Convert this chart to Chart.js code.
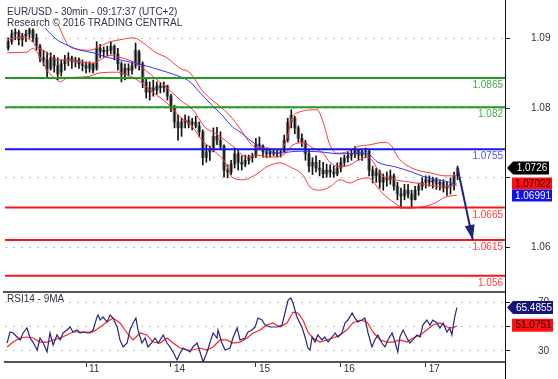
<!DOCTYPE html>
<html>
<head>
<meta charset="utf-8">
<script src="https://cdn.jsdelivr.net/npm/chart.js@4.4.1/dist/chart.umd.min.js"></script>
<style>
  html, body { margin: 0; padding: 0; background: #fff; }
  #wrap { position: relative; width: 558px; height: 379px; overflow: hidden; }
  #price { position: absolute; left: 0; top: 0; }
  #rsi { position: absolute; left: 0; top: 291px; }
</style>
</head>
<body>
<div id="wrap">
  <canvas id="price" width="558" height="291"></canvas>
  <canvas id="rsi" width="558" height="88"></canvas>
</div>
<script>
// EUR/USD bars, one per hour (first bar = hour 2 of the 10th)
const firstHour = 2;
const open = [
  1.0911, 1.0921, 1.0933, 1.0936, 1.0924, 1.0930, 1.0933, 1.0939,
  1.0927, 1.0914, 1.0896, 1.0893, 1.0880, 1.0896, 1.0884, 1.0874,
  1.0887, 1.0893, 1.0896, 1.0890, 1.0893, 1.0887, 1.0884, 1.0880,
  1.0887, 1.0880, 1.0911, 1.0905, 1.0908, 1.0908, 1.0914, 1.0902,
  1.0887, 1.0871, 1.0880, 1.0877, 1.0884, 1.0905, 1.0887, 1.0859,
  1.0843, 1.0850, 1.0846, 1.0853, 1.0850, 1.0853, 1.0837, 1.0819,
  1.0797, 1.0788, 1.0797, 1.0800, 1.0794, 1.0797, 1.0791, 1.0782,
  1.0742, 1.0751, 1.0754, 1.0775, 1.0769, 1.0760, 1.0723, 1.0720,
  1.0732, 1.0748, 1.0735, 1.0732, 1.0738, 1.0742, 1.0745, 1.0763,
  1.0760, 1.0751, 1.0748, 1.0751, 1.0748, 1.0749, 1.0751, 1.0769,
  1.0797, 1.0803, 1.0788, 1.0772, 1.0766, 1.0748, 1.0729, 1.0735,
  1.0726, 1.0723, 1.0717, 1.0723, 1.0720, 1.0717, 1.0726, 1.0735,
  1.0742, 1.0745, 1.0748, 1.0754, 1.0746, 1.0751, 1.0752, 1.0723,
  1.0714, 1.0720, 1.0704, 1.0711, 1.0708, 1.0714, 1.0698, 1.0686,
  1.0683, 1.0692, 1.0686, 1.0677, 1.0692, 1.0698, 1.0704, 1.0708,
  1.0704, 1.0708, 1.0701, 1.0704, 1.0695, 1.0698, 1.0701, 1.0714
];
const high = [
  1.0927, 1.0939, 1.0941, 1.0939, 1.0934, 1.0939, 1.0942, 1.0941,
  1.0933, 1.0917, 1.0908, 1.0905, 1.0904, 1.0900, 1.0896, 1.0893,
  1.0900, 1.0904, 1.0899, 1.0897, 1.0896, 1.0893, 1.0890, 1.0890,
  1.0888, 1.0921, 1.0917, 1.0913, 1.0914, 1.0921, 1.0916, 1.0911,
  1.0890, 1.0887, 1.0887, 1.0890, 1.0919, 1.0908, 1.0890, 1.0865,
  1.0859, 1.0862, 1.0859, 1.0857, 1.0859, 1.0854, 1.0840, 1.0823,
  1.0808, 1.0803, 1.0808, 1.0806, 1.0803, 1.0806, 1.0797, 1.0785,
  1.0762, 1.0760, 1.0788, 1.0789, 1.0782, 1.0762, 1.0731, 1.0738,
  1.0757, 1.0754, 1.0745, 1.0746, 1.0746, 1.0749, 1.0772, 1.0774,
  1.0762, 1.0757, 1.0755, 1.0755, 1.0754, 1.0755, 1.0777, 1.0803,
  1.0816, 1.0806, 1.0791, 1.0779, 1.0769, 1.0754, 1.0742, 1.0745,
  1.0738, 1.0735, 1.0732, 1.0731, 1.0729, 1.0734, 1.0742, 1.0746,
  1.0751, 1.0754, 1.0759, 1.0755, 1.0754, 1.0757, 1.0754, 1.0729,
  1.0726, 1.0723, 1.0717, 1.0720, 1.0723, 1.0717, 1.0704, 1.0695,
  1.0701, 1.0701, 1.0692, 1.0698, 1.0703, 1.0711, 1.0714, 1.0714,
  1.0712, 1.0711, 1.0708, 1.0708, 1.0704, 1.0711, 1.0720, 1.0729
];
const low = [
  1.0908, 1.0917, 1.0924, 1.0916, 1.0914, 1.0921, 1.0927, 1.0921,
  1.0908, 1.0890, 1.0884, 1.0867, 1.0877, 1.0874, 1.0862, 1.0868,
  1.0877, 1.0884, 1.0880, 1.0882, 1.0880, 1.0876, 1.0873, 1.0874,
  1.0873, 1.0877, 1.0896, 1.0897, 1.0899, 1.0902, 1.0893, 1.0877,
  1.0859, 1.0862, 1.0868, 1.0871, 1.0880, 1.0877, 1.0850, 1.0834,
  1.0831, 1.0837, 1.0840, 1.0842, 1.0843, 1.0831, 1.0813, 1.0788,
  1.0769, 1.0775, 1.0788, 1.0788, 1.0785, 1.0788, 1.0774, 1.0731,
  1.0735, 1.0738, 1.0751, 1.0762, 1.0754, 1.0712, 1.0711, 1.0716,
  1.0726, 1.0723, 1.0723, 1.0728, 1.0732, 1.0735, 1.0742, 1.0754,
  1.0743, 1.0742, 1.0743, 1.0745, 1.0743, 1.0743, 1.0751, 1.0766,
  1.0788, 1.0779, 1.0766, 1.0759, 1.0738, 1.0720, 1.0716, 1.0720,
  1.0714, 1.0711, 1.0712, 1.0712, 1.0712, 1.0714, 1.0720, 1.0729,
  1.0735, 1.0738, 1.0742, 1.0738, 1.0738, 1.0742, 1.0714, 1.0703,
  1.0704, 1.0695, 1.0692, 1.0698, 1.0701, 1.0692, 1.0677, 1.0664,
  1.0677, 1.0680, 1.0666, 1.0677, 1.0684, 1.0692, 1.0695, 1.0698,
  1.0695, 1.0693, 1.0692, 1.0689, 1.0684, 1.0686, 1.0692, 1.0708
];
const close = [
  1.0921, 1.0933, 1.0936, 1.0924, 1.0930, 1.0933, 1.0939, 1.0927,
  1.0914, 1.0896, 1.0893, 1.0877, 1.0896, 1.0884, 1.0871, 1.0887,
  1.0893, 1.0896, 1.0890, 1.0893, 1.0887, 1.0884, 1.0880, 1.0887,
  1.0877, 1.0911, 1.0905, 1.0908, 1.0907, 1.0914, 1.0902, 1.0887,
  1.0871, 1.0880, 1.0877, 1.0884, 1.0908, 1.0887, 1.0859, 1.0843,
  1.0850, 1.0846, 1.0853, 1.0850, 1.0853, 1.0837, 1.0819, 1.0797,
  1.0788, 1.0797, 1.0800, 1.0794, 1.0797, 1.0791, 1.0782, 1.0742,
  1.0751, 1.0754, 1.0775, 1.0769, 1.0760, 1.0723, 1.0720, 1.0732,
  1.0748, 1.0735, 1.0732, 1.0738, 1.0742, 1.0745, 1.0763, 1.0760,
  1.0751, 1.0748, 1.0751, 1.0748, 1.0749, 1.0751, 1.0769, 1.0797,
  1.0808, 1.0788, 1.0772, 1.0766, 1.0748, 1.0729, 1.0735, 1.0726,
  1.0723, 1.0717, 1.0723, 1.0720, 1.0717, 1.0726, 1.0735, 1.0742,
  1.0745, 1.0748, 1.0754, 1.0746, 1.0751, 1.0752, 1.0723, 1.0714,
  1.0720, 1.0704, 1.0711, 1.0708, 1.0714, 1.0698, 1.0686, 1.0683,
  1.0692, 1.0686, 1.0677, 1.0692, 1.0698, 1.0704, 1.0708, 1.0704,
  1.0708, 1.0701, 1.0704, 1.0695, 1.0698, 1.0701, 1.0714, 1.0726
];

// bollinger bands and moving average (hour, price)
const upperHours = [16.1, 17.2, 18.9, 20.9, 25.1, 28.0, 30.8, 33.6, 37.3, 40.7, 43.5, 46.9, 50.6, 53.4, 56.8, 59.6, 62.4, 65.3, 68.4, 70.3, 72.3, 74.6, 78.8, 80.8, 82.2, 83.6, 89.3, 91.0, 92.9, 94.9, 97.7, 100.6, 104.2, 108.5, 110.5, 112.1, 116.1, 121.8, 125.4, 128.8];
const upperBand = [1.0948, 1.0934, 1.0916, 1.0910, 1.0908, 1.0914, 1.0921, 1.0924, 1.0927, 1.0917, 1.0905, 1.0896, 1.0880, 1.0873, 1.0846, 1.0831, 1.0819, 1.0803, 1.0780, 1.0765, 1.0757, 1.0757, 1.0754, 1.0772, 1.0803, 1.0811, 1.0816, 1.0797, 1.0762, 1.0749, 1.0751, 1.0759, 1.0762, 1.0766, 1.0759, 1.0743, 1.0726, 1.0718, 1.0714, 1.0714];
const midHours = [1.7, 5.4, 8.2, 10.2, 13.0, 15.8, 18.6, 22.3, 26.0, 28.0, 30.8, 33.6, 37.3, 40.1, 44.1, 46.9, 50.6, 54.2, 57.6, 60.5, 63.3, 66.1, 69.5, 72.3, 76.0, 79.7, 82.5, 85.3, 88.1, 91.0, 92.9, 95.8, 98.6, 100.8, 103.7, 107.6, 111.3, 116.1, 120.6, 125.4, 128.8];
const midBand = [1.0924, 1.0928, 1.0924, 1.0913, 1.0904, 1.0893, 1.0893, 1.0890, 1.0888, 1.0893, 1.0900, 1.0897, 1.0890, 1.0880, 1.0862, 1.0850, 1.0831, 1.0816, 1.0789, 1.0780, 1.0769, 1.0757, 1.0743, 1.0746, 1.0743, 1.0746, 1.0762, 1.0765, 1.0757, 1.0749, 1.0735, 1.0728, 1.0731, 1.0738, 1.0743, 1.0715, 1.0708, 1.0704, 1.0700, 1.0697, 1.0702];
const lowerHours = [1.7, 7.3, 9.0, 11.0, 13.0, 15.8, 16.7, 18.6, 24.3, 28.0, 32.8, 35.6, 39.3, 42.9, 46.9, 50.6, 54.2, 56.8, 60.5, 63.3, 65.3, 68.4, 72.3, 75.1, 78.8, 81.6, 85.3, 87.3, 90.1, 92.9, 95.8, 98.6, 100.8, 103.7, 107.6, 111.3, 114.1, 118.9, 122.6, 125.4, 128.8];
const lowerBand = [1.0904, 1.0905, 1.0911, 1.0897, 1.0877, 1.0862, 1.0859, 1.0865, 1.0867, 1.0873, 1.0874, 1.0870, 1.0859, 1.0843, 1.0826, 1.0805, 1.0789, 1.0769, 1.0751, 1.0735, 1.0712, 1.0708, 1.0717, 1.0728, 1.0734, 1.0728, 1.0715, 1.0697, 1.0692, 1.0697, 1.0708, 1.0703, 1.0708, 1.0711, 1.0688, 1.0672, 1.0664, 1.0666, 1.0672, 1.0681, 1.0684];
const maHours = [12.4, 15.8, 18.6, 22.3, 26.0, 29.9, 33.6, 37.9, 42.1, 46.9, 50.6, 53.4, 55.6, 59.6, 62.4, 65.5, 67.5, 70.3, 73.2, 76.0, 78.8, 81.6, 84.5, 90.1, 95.8, 100.8, 104.2, 106.5, 111.3, 116.1, 119.8, 123.4, 127.4, 128.8];
const maLine = [1.0942, 1.0924, 1.0916, 1.0908, 1.0904, 1.0897, 1.0893, 1.0888, 1.0882, 1.0874, 1.0867, 1.0859, 1.0846, 1.0823, 1.0808, 1.0789, 1.0782, 1.0769, 1.0759, 1.0752, 1.0749, 1.0751, 1.0752, 1.0751, 1.0748, 1.0749, 1.0746, 1.0735, 1.0728, 1.0720, 1.0712, 1.0708, 1.0703, 1.0699];

// support / resistance levels and the target arrow
const levels = [1.0865, 1.082, 1.0755, 1.0665, 1.0615, 1.056];
const levelLabels = ['1.0865', '1.082', '1.0755', '1.0665', '1.0615', '1.056'];
const arrowHours = [129, 133.3];
const arrowPrices = [1.0726, 1.0615];

// RSI 14 and its 9 period average
const rsiHours = [1.7, 2.5, 3.4, 4.5, 5.4, 6.2, 7.3, 8.2, 9.0, 10.2, 11.0, 11.9, 13.0, 13.8, 14.7, 15.8, 16.7, 17.5, 18.6, 19.5, 20.3, 21.5, 22.3, 23.2, 24.3, 25.1, 26.0, 27.1, 27.4, 28.0, 28.8, 29.9, 30.8, 31.6, 32.8, 33.6, 34.5, 35.6, 36.4, 37.3, 38.1, 38.7, 39.8, 40.7, 41.5, 42.7, 43.5, 44.4, 45.8, 46.9, 47.7, 48.6, 49.7, 50.6, 51.4, 52.5, 53.4, 54.2, 55.4, 56.2, 57.1, 58.2, 59.0, 59.9, 61.0, 61.3, 62.4, 63.3, 64.7, 65.5, 66.7, 67.5, 68.9, 69.8, 70.9, 71.8, 72.6, 73.7, 74.6, 76.0, 78.0, 79.4, 80.2, 81.1, 81.9, 82.5, 83.6, 85.0, 85.9, 86.7, 87.3, 87.9, 88.7, 89.5, 90.7, 91.5, 92.4, 93.5, 94.4, 95.2, 96.3, 97.2, 98.0, 99.2, 100.0, 100.8, 102.0, 102.8, 103.7, 104.8, 105.6, 106.5, 107.6, 108.5, 109.3, 110.5, 111.3, 112.1, 112.7, 113.6, 114.7, 115.5, 116.4, 117.5, 118.4, 119.2, 120.3, 121.2, 122.0, 123.2, 124.0, 124.9, 126.0, 126.8, 127.4, 127.7, 128.2, 128.8];
const rsiValues = [36.5, 45.5, 44.7, 41.4, 39.0, 44.7, 48.8, 40.6, 37.3, 30.8, 40.6, 36.5, 29.2, 44.7, 34.9, 43.1, 39.0, 44.7, 47.1, 49.6, 45.5, 47.1, 44.7, 45.5, 44.7, 44.7, 47.1, 57.8, 59.4, 55.3, 57.8, 53.7, 59.4, 56.9, 49.6, 39.0, 33.3, 36.5, 47.1, 52.9, 56.9, 47.1, 36.5, 40.6, 33.3, 37.3, 40.6, 36.5, 43.1, 36.5, 33.3, 29.2, 22.7, 28.4, 32.4, 30.8, 29.2, 33.3, 36.5, 29.2, 21.0, 29.2, 36.5, 44.7, 40.6, 47.1, 36.5, 30.8, 32.4, 40.6, 48.8, 39.0, 40.6, 45.5, 47.1, 49.6, 56.9, 55.3, 51.2, 49.6, 49.6, 51.2, 61.0, 71.6, 73.3, 69.2, 57.8, 49.6, 41.4, 32.4, 30.8, 41.4, 37.3, 43.1, 39.0, 41.4, 37.3, 41.4, 44.7, 41.4, 44.7, 52.9, 55.3, 61.0, 56.9, 53.7, 55.3, 56.9, 44.7, 33.3, 39.0, 43.1, 36.5, 33.3, 39.0, 44.7, 37.3, 29.2, 41.4, 47.1, 40.6, 36.5, 39.0, 43.1, 41.4, 51.2, 55.3, 51.2, 55.3, 52.9, 48.8, 52.9, 45.5, 48.8, 43.1, 49.6, 57.8, 65.5];
const rsiMaHours = [1.7, 3.4, 5.4, 7.3, 9.0, 11.0, 13.0, 14.7, 16.7, 18.6, 20.3, 22.3, 24.3, 26.0, 28.0, 29.9, 31.6, 33.6, 35.6, 37.3, 39.3, 41.2, 42.9, 44.9, 46.9, 48.6, 50.6, 52.5, 54.2, 56.2, 58.2, 59.9, 61.9, 63.8, 65.5, 67.5, 69.5, 71.2, 73.2, 75.1, 76.8, 78.8, 80.8, 82.5, 83.9, 85.3, 86.7, 88.1, 90.1, 92.1, 93.8, 95.8, 97.7, 99.4, 101.4, 103.4, 105.1, 107.1, 109.0, 110.7, 112.7, 114.7, 116.4, 118.4, 120.3, 122.0, 124.0, 126.0, 127.7, 128.8];
const rsiMaValues = [33.3, 37.3, 40.6, 41.4, 40.6, 37.3, 37.3, 39.0, 40.6, 43.1, 45.5, 45.5, 45.5, 45.5, 49.6, 53.7, 56.9, 52.9, 44.7, 39.0, 44.7, 43.1, 37.3, 36.5, 40.6, 36.5, 32.4, 30.8, 30.8, 32.4, 30.8, 33.3, 39.0, 39.0, 36.5, 37.3, 40.6, 44.7, 47.1, 51.2, 52.9, 49.6, 52.9, 61.8, 61.0, 55.3, 45.5, 40.6, 37.3, 39.0, 40.6, 43.1, 47.1, 52.9, 55.3, 53.7, 45.5, 39.0, 37.3, 37.3, 39.0, 37.3, 40.6, 43.1, 47.1, 51.2, 52.9, 49.6, 48.8, 50.4];

// axes and texts
const dayTicks = [24, 48, 72, 96, 120];
const dayLabels = ['11', '14', '15', '16', '17'];
const priceTicks = [1.06, 1.07, 1.08, 1.09];
const priceTickLabels = ['1.06', '', '1.08', '1.09'];
const rsiTicks = [30, 50, 70];
const rsiTickLabels = ['30', '', '70'];
const titleLines = ['EUR/USD - 30min - 09:17:37 (UTC+2)', 'Research \u00a9 2016 TRADING CENTRAL'];
const rsiTitle = 'RSI14 - 9MA';
const lastPrice = 1.0726, lastMid = 1.07022, lastMa = 1.06991;
const lastRsi = 65.4855, lastRsiMa = 51.0751;

// styles
const FONT = '"Liberation Sans", Arial, sans-serif';
const levelColors = ['#1f9a1f', '#1f9a1f', '#1717f2', '#f71818', '#f71818', '#f71818'];
const levelTextColors = ['#4aa84a', '#4aa84a', '#5252ff', '#ff4040', '#ff4040', '#ff4040'];
const xMin = 1.1, xMax = 142.4;

const pts = (xs, ys) => xs.map((x, i) => ({ x: x, y: ys[i] }));
const barHours = open.map((_, i) => firstHour + i);

function lineSet(data, color, width, order, smooth) {
  return {
    type: 'line', data: data, borderColor: color, borderWidth: width,
    pointRadius: 0, order: order, fill: false,
    cubicInterpolationMode: smooth ? 'monotone' : 'default', tension: 0
  };
}

// right axis: fixed width, no extra vertical padding from the label offset
function fitRightAxis(s) {
  s.width = 53;
  s.paddingTop = 0;
  s.paddingBottom = 0;
}

function tag(ctx, text, yc, left, right, h, bg, fg, pointer) {
  ctx.fillStyle = bg;
  ctx.beginPath();
  if (pointer) {
    ctx.moveTo(left - 6, yc);
    ctx.lineTo(left, yc - h / 2);
    ctx.lineTo(right, yc - h / 2);
    ctx.lineTo(right, yc + h / 2);
    ctx.lineTo(left, yc + h / 2);
  } else {
    ctx.rect(left, yc - h / 2, right - left, h);
  }
  ctx.closePath();
  ctx.fill();
  ctx.fillStyle = fg;
  ctx.font = '10px ' + FONT;
  ctx.textAlign = 'center';
  ctx.textBaseline = 'middle';
  ctx.fillText(text, (left + right) / 2 + 1, yc + 0.5);
}

const priceDecor = {
  id: 'priceDecor',
  afterDraw(chart) {
    const ctx = chart.ctx, xs = chart.scales.x, ys = chart.scales.y, area = chart.chartArea;
    ctx.save();
    ctx.font = '10px ' + FONT;
    ctx.textBaseline = 'alphabetic';
    ctx.textAlign = 'left';
    ctx.fillStyle = '#30304a';
    ctx.fillText(titleLines[0], 7, 15);
    ctx.fillText(titleLines[1], 7, 26);

    ctx.textAlign = 'right';
    levels.forEach((v, i) => {
      ctx.fillStyle = levelTextColors[i];
      ctx.fillText(levelLabels[i], area.right - 2, ys.getPixelForValue(v) + 10);
    });

    // arrow head at the end of the target line
    const x0 = xs.getPixelForValue(arrowHours[0]), y0 = ys.getPixelForValue(arrowPrices[0]);
    const x1 = xs.getPixelForValue(arrowHours[1]), y1 = ys.getPixelForValue(arrowPrices[1]);
    const a = Math.atan2(y1 - y0, x1 - x0);
    ctx.fillStyle = '#1c247e';
    ctx.beginPath();
    ctx.moveTo(x1, y1);
    ctx.lineTo(x1 - 15 * Math.cos(a) + 5 * Math.sin(a), y1 - 15 * Math.sin(a) - 5 * Math.cos(a));
    ctx.lineTo(x1 - 15 * Math.cos(a) - 5 * Math.sin(a), y1 - 15 * Math.sin(a) + 5 * Math.cos(a));
    ctx.closePath();
    ctx.fill();

    const yMid = ys.getPixelForValue(lastMid);
    tag(ctx, lastPrice.toFixed(4), ys.getPixelForValue(lastPrice), 513, 549, 13, '#000', '#fff', true);
    tag(ctx, lastMid.toFixed(5), yMid, 512, 552, 12, '#ff1010', '#200000', false);
    tag(ctx, lastMa.toFixed(5), yMid + 12, 512, 552, 12, '#1010f0', '#fff', false);
    ctx.restore();
  }
};

const rsiDecor = {
  id: 'rsiDecor',
  afterDraw(chart) {
    const ctx = chart.ctx, ys = chart.scales.y, area = chart.chartArea;
    ctx.save();
    ctx.strokeStyle = '#555';
    ctx.lineWidth = 2;
    ctx.beginPath();
    ctx.moveTo(3, 1);
    ctx.lineTo(area.right, 1);
    ctx.stroke();
    ctx.strokeStyle = '#000';
    ctx.lineWidth = 1;
    ctx.beginPath();
    ctx.moveTo(area.right + 0.5, area.bottom);
    ctx.lineTo(area.right + 0.5, chart.height);
    ctx.stroke();

    ctx.font = '10px ' + FONT;
    ctx.fillStyle = '#30304a';
    ctx.textAlign = 'left';
    ctx.textBaseline = 'alphabetic';
    ctx.fillText(rsiTitle, 7, 11);

    tag(ctx, lastRsi.toFixed(4), ys.getPixelForValue(lastRsi), 513, 553, 13, '#14147a', '#fff', true);
    tag(ctx, lastRsiMa.toFixed(4), ys.getPixelForValue(lastRsiMa), 512, 553, 13, '#ff1010', '#200000', false);
    ctx.restore();
  }
};

const priceDatasets = [
  {
    type: 'bar', data: barHours.map((h, i) => ({ x: h, y: [open[i], close[i]] })),
    backgroundColor: '#8c8c8c', barThickness: 3, grouped: false, order: 20
  },
  {
    type: 'bar', data: barHours.map((h, i) => ({ x: h, y: [low[i], high[i]] })),
    backgroundColor: '#111', barThickness: 1, grouped: false, order: 19
  },
  lineSet(pts(upperHours, upperBand), '#ff3535', 1, 10, true),
  lineSet(pts(midHours, midBand), '#ff3535', 1, 10, true),
  lineSet(pts(lowerHours, lowerBand), '#ff3535', 1, 10, true),
  lineSet(pts(maHours, maLine), '#3535ff', 1, 9, true)
];
levels.forEach((v, i) => {
  priceDatasets.push(lineSet([{ x: xMin, y: v }, { x: xMax, y: v }], levelColors[i], 2, 5, false));
});
priceDatasets.push(lineSet(pts(arrowHours, arrowPrices), '#1c247e', 2, 1, false));

new Chart(document.getElementById('price'), {
  type: 'bar',
  data: { datasets: priceDatasets },
  options: {
    responsive: false,
    animation: false,
    layout: { padding: { left: 5, right: 0, top: 0, bottom: 0 } },
    plugins: { legend: { display: false }, tooltip: { enabled: false } },
    scales: {
      x: { type: 'linear', display: false, min: xMin, max: xMax, offset: false },
      y: { type: 'linear', display: false, min: 1.05363, max: 1.09854 },
      yTicks: {
        axis: 'y', type: 'linear', position: 'right', min: 1.05374, max: 1.0955,
        afterBuildTicks: s => { s.ticks = priceTicks.map(v => ({ value: v })); },
        afterFit: fitRightAxis,
        grid: { color: '#c4c4c4', tickColor: '#222', tickLength: 5, lineWidth: 1 },
        border: { display: true, color: '#111', width: 1, dash: [2, 6] },
        ticks: {
          autoSkip: false, padding: 21, color: '#333',
          font: { family: FONT, size: 10 },
          callback: (v, i) => priceTickLabels[i]
        }
      }
    }
  },
  plugins: [priceDecor]
});

new Chart(document.getElementById('rsi'), {
  type: 'line',
  data: {
    datasets: [
      lineSet(pts(rsiHours, rsiValues), '#262680', 1.2, 1, false),
      lineSet(pts(rsiMaHours, rsiMaValues), '#ff2020', 1.2, 2, false)
    ]
  },
  options: {
    responsive: false,
    animation: false,
    layout: { padding: { left: 5, right: 0, top: 0, bottom: 0 } },
    plugins: { legend: { display: false }, tooltip: { enabled: false } },
    scales: {
      x: {
        type: 'linear', min: xMin, max: xMax, offset: false,
        afterBuildTicks: s => { s.ticks = dayTicks.map(v => ({ value: v })); },
        afterFit: s => { s.height = 17; s.paddingLeft = 0; s.paddingRight = 0; },
        grid: { drawOnChartArea: false, tickLength: 5, tickColor: '#333' },
        border: { display: true, color: '#555', width: 2 },
        ticks: {
          autoSkip: false, maxRotation: 0, align: 'start', labelOffset: 3, padding: -4,
          color: '#333', font: { family: FONT, size: 10 },
          callback: (v, i) => dayLabels[i]
        }
      },
      y: {
        type: 'linear', position: 'right', min: 21, max: 79,
        afterBuildTicks: s => { s.ticks = rsiTicks.map(v => ({ value: v })); },
        afterFit: fitRightAxis,
        grid: { color: '#c4c4c4', tickColor: '#222', tickLength: 5, lineWidth: 1 },
        border: { display: true, color: '#111', width: 1, dash: [2, 6] },
        ticks: {
          autoSkip: false, padding: 28, color: '#333',
          font: { family: FONT, size: 10 },
          callback: (v, i) => rsiTickLabels[i]
        }
      }
    }
  },
  plugins: [rsiDecor]
});
</script>
</body>
</html>
